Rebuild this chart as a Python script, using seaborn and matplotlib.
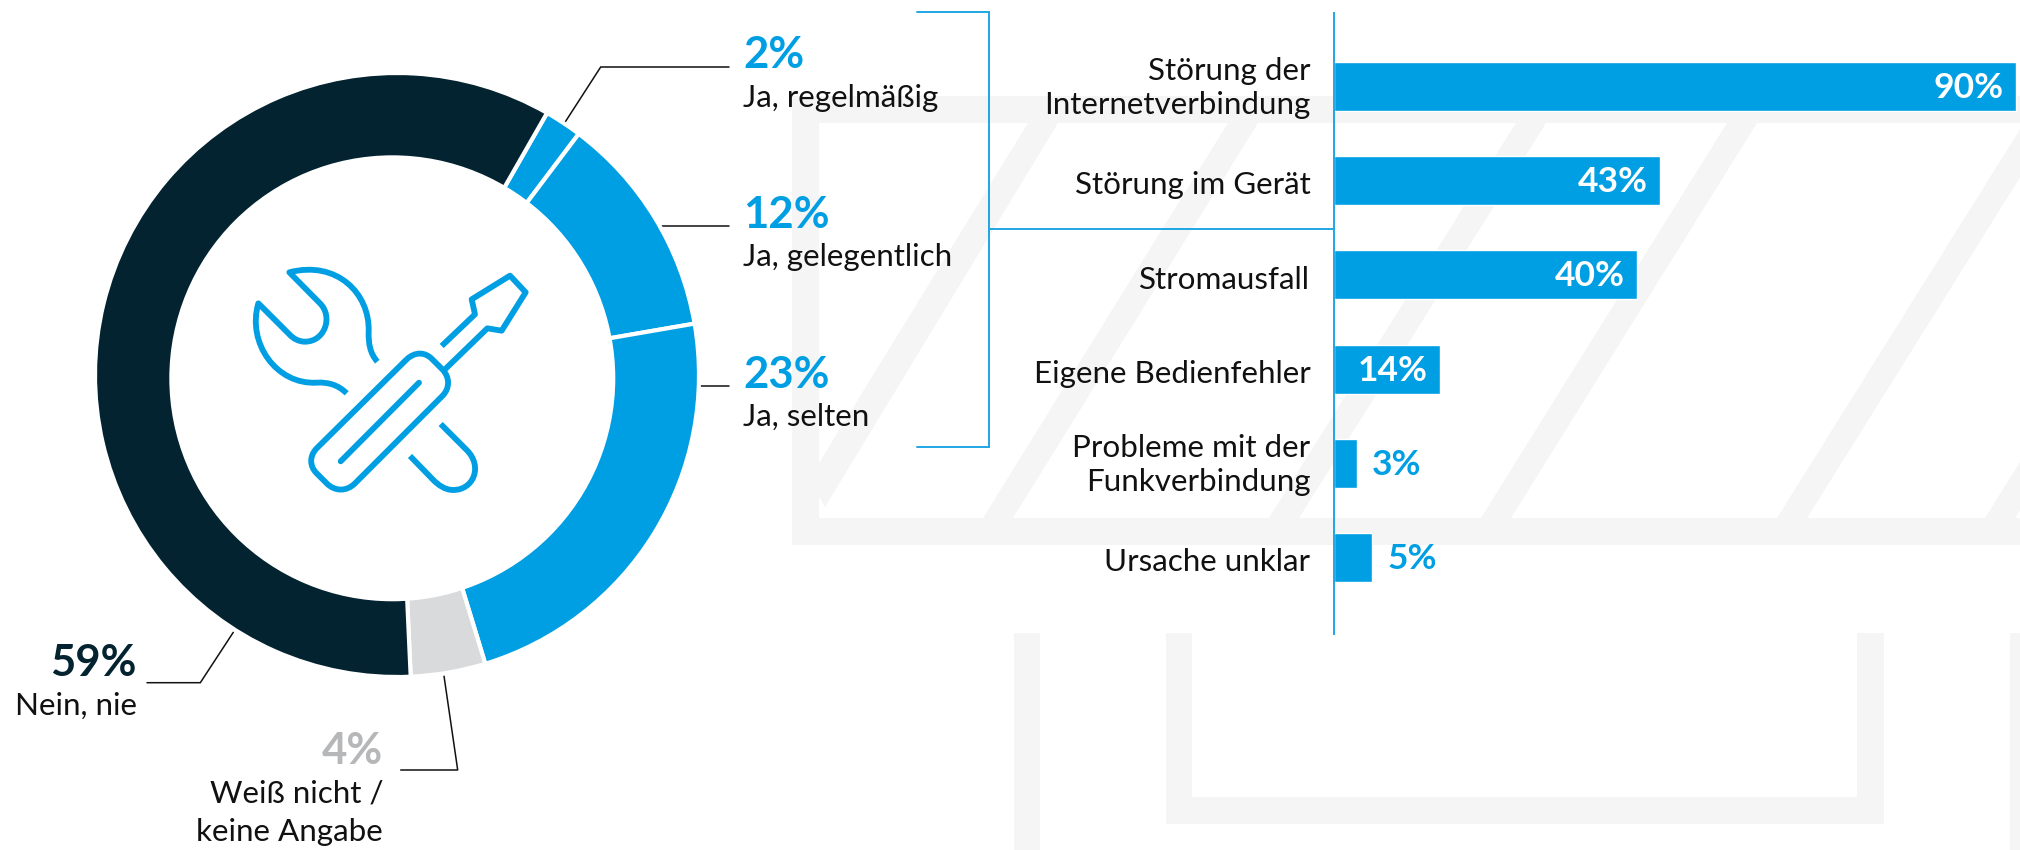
import matplotlib

matplotlib.use("Agg")
import matplotlib.pyplot as plt
import seaborn as sns
from matplotlib.patches import Circle, PathPatch, Polygon, Rectangle
from matplotlib.path import Path
from matplotlib.transforms import ScaledTranslation

BLUE = "#009FE3"
DARK = "#02232F"
GRAY = "#D9DADB"
GRAY_TEXT = "#B6B7B9"
WATERMARK = "#F5F5F5"
LINE_BLUE = "#1FA6E4"

# donut, clockwise starting at the dark slice's end
answer_labels = ["Ja, regelmäßig", "Ja, gelegentlich", "Ja, selten", "Weiß nicht /\nkeine Angabe", "Nein, nie"]
answer_values = [2, 12, 23, 4, 59]
answer_colors = [BLUE, BLUE, BLUE, GRAY, DARK]

# bars
cause_labels = [
    "Störung der\nInternetverbindung",
    "Störung im Gerät",
    "Stromausfall",
    "Eigene Bedienfehler",
    "Probleme mit der\nFunkverbindung",
    "Ursache unklar",
]
cause_values = [90, 43, 40, 14, 3, 5]

W, H = 2020, 850
sns.set_theme(style="white")
plt.rcParams["font.family"] = ["Lato", "DejaVu Sans"]


def px_axes(fig, left, top, right, bottom, **kw):
    return fig.add_axes(
        [left / W, 1 - bottom / H, (right - left) / W, (bottom - top) / H], **kw
    )


def draw_watermark(ax):
    rects = [
        (792, 96, 1228, 27),
        (792, 518, 1228, 27),
        (792, 96, 27, 449),
        (1014, 633, 26, 217),
        (1166, 633, 26, 191),
        (1857, 633, 27, 191),
        (1166, 797, 718, 27),
        (2010, 633, 10, 217),
    ]
    for x, y, w, h in rects:
        ax.add_patch(Rectangle((x, y), w, h, fc=WATERMARK, ec="none", zorder=1))
    # slanted stripes between the two bands
    for x_top, x_bottom in [(1228, 983), (1516, 1269), (1727, 1481), (2024, 1777), (2232, 1985)]:
        ax.add_patch(
            Polygon(
                [(x_top, 123), (x_top + 30, 123), (x_bottom + 30, 518), (x_bottom, 518)],
                fc=WATERMARK,
                ec="none",
                zorder=1,
            )
        )
    ax.add_patch(
        Polygon([(1028, 123), (1058, 123), (825, 507), (819, 497), (819, 463)], fc=WATERMARK, ec="none", zorder=1)
    )


def draw_icon(ax):
    def z(x, y):
        return (200 + x / 3, 220 + y / 3)

    M, L, C = Path.MOVETO, Path.LINETO, Path.CURVE4
    paths = [
        # wrench head
        [
            (M, 532, 425),
            (C, 510, 400), (C, 505, 370), (C, 506, 335),
            (C, 510, 220), (C, 410, 120), (C, 268, 157),
            (L, 360, 250),
            (C, 400, 290), (C, 375, 365), (C, 315, 365),
            (C, 295, 365), (C, 280, 355), (C, 270, 345),
            (L, 175, 250),
            (C, 140, 370), (C, 230, 495), (C, 350, 488),
            (C, 385, 486), (C, 415, 495), (C, 440, 520),
        ],
        # wrench handle behind the screwdriver
        [
            (M, 722, 612),
            (L, 800, 690),
            (C, 850, 740), (C, 820, 810), (C, 760, 810),
            (C, 735, 810), (C, 715, 795), (C, 700, 780),
            (L, 630, 708),
        ],
        # screwdriver handle
        [
            (M, 620, 418),
            (C, 645, 395), (C, 675, 395), (C, 697, 418),
            (L, 727, 448),
            (C, 750, 472), (C, 750, 505), (C, 727, 528),
            (L, 465, 790),
            (C, 440, 815), (C, 405, 815), (C, 380, 790),
            (L, 350, 760),
            (C, 328, 738), (C, 328, 708), (C, 350, 685),
            (L, 620, 418),
        ],
        [(M, 657, 488), (L, 422, 724)],
        # blade
        [
            (M, 725, 378), (L, 825, 283), (L, 815, 238), (L, 930, 167),
            (L, 977, 217), (L, 905, 332), (L, 862, 325), (L, 735, 448),
        ],
    ]
    for p in paths:
        verts = [z(x, y) for _, x, y in p]
        codes = [c for c, _, _ in p]
        cap = "round" if len(p) == 2 else "butt"
        ax.add_patch(
            PathPatch(Path(verts, codes), fc="none", ec=BLUE, lw=4.2, capstyle=cap, joinstyle="round", zorder=3)
        )


fig = plt.figure(figsize=(W / 100, H / 100), dpi=100, facecolor="white")

bg = px_axes(fig, 0, 0, W, H, zorder=0)
bg.set_xlim(0, W)
bg.set_ylim(H, 0)
bg.axis("off")
draw_watermark(bg)

# callout lines
for xs, ys in [
    ([565, 600.7, 729], [122.3, 67, 67]),
    ([661.3, 729], [225.7, 225.7]),
    ([700, 729], [385.7, 385.7]),
    ([233.3, 200.3, 147], [632.3, 682.7, 682.7]),
    ([444, 457.7, 400.7], [676, 770, 770]),
]:
    bg.plot(xs, ys, color="#111111", lw=1.1, zorder=2, solid_joinstyle="miter")

# bracket to the bar chart
bg.plot([917, 989, 989, 917], [12, 12, 446.5, 446.5], color=LINE_BLUE, lw=1.4, zorder=2, solid_joinstyle="miter")
bg.plot([989, 1334], [229, 229], color=LINE_BLUE, lw=1.4, zorder=2)

# donut, the hole sits a little off centre in the original
ring = px_axes(fig, 95, 73, 699, 677, zorder=2)
ring.pie(
    answer_values,
    colors=answer_colors,
    startangle=60.2,
    counterclock=False,
    radius=1,
    wedgeprops={"width": 0.4, "edgecolor": "white", "linewidth": 3},
)
ring.add_patch(Circle((-4.7 / 302, -3.3 / 302), 223 / 302, fc="white", ec="none", zorder=5))
ring.set_xlim(-1, 1)
ring.set_ylim(-1, 1)
ring.patch.set_alpha(0)

icon = px_axes(fig, 0, 0, W, H, zorder=2.5)
icon.set_xlim(0, W)
icon.set_ylim(H, 0)
icon.axis("off")
draw_icon(icon)

# answer texts: (x, align, value baseline, label baseline, colour)
PCT_SIZE = 31.5
LAB_SIZE = 22.6
placement = [
    (743, "left", 68.3, 107, BLUE),
    (743, "left", 228, 266, BLUE),
    (743, "left", 388, 426, BLUE),
    (383, "right", 764, 803, GRAY_TEXT),
    (137, "right", 676, 715, DARK),
]
for value, label, (x, ha, y_val, y_lab, col) in zip(answer_values, answer_labels, placement):
    icon.text(x, y_val, f"{value}%", ha=ha, va="baseline", fontsize=PCT_SIZE, fontweight="bold", color=col, zorder=4)
    icon.text(x, y_lab, label.split("\n")[0], ha=ha, va="baseline", fontsize=LAB_SIZE, color="#111111", zorder=4)
    if "\n" in label:
        icon.text(x, y_lab + 38, label.split("\n")[1], ha=ha, va="baseline", fontsize=LAB_SIZE, color="#111111", zorder=4)

# bars
ax = px_axes(fig, 1334, 13, W, 634, zorder=3)
ax.patch.set_alpha(0)
sns.barplot(x=cause_values, y=cause_labels, orient="h", color=BLUE, saturation=1, width=0.52, ax=ax)
ax.set_xlim(0, 686 / 7.58)
ax.set_ylim(5.81, -0.78)
ax.set_xticks([])
ax.set_xlabel("")
ax.set_ylabel("")
ax.tick_params(axis="y", length=0, pad=17, labelsize=LAB_SIZE, labelcolor="#111111")
for lab in ax.get_yticklabels():
    lab.set_linespacing(1.28)
    # two-line labels sit higher than mpl centres them, one-liners a touch lower
    shift = 3 if "\n" in lab.get_text() else -1.5
    lab.set_transform(lab.get_transform() + ScaledTranslation(0, shift / 72, fig.dpi_scale_trans))
sns.despine(ax=ax, top=True, right=True, bottom=True)
ax.spines["left"].set_color(LINE_BLUE)
ax.spines["left"].set_linewidth(1.4)

for i, v in enumerate(cause_values):
    inside = v >= 10
    ax.annotate(
        f"{v}%",
        (v, i),
        xytext=(-9 if inside else 11, -1),
        textcoords="offset points",
        ha="right" if inside else "left",
        va="center",
        fontsize=25.5,
        fontweight="bold",
        color="white" if inside else BLUE,
    )

fig.savefig("out.png", dpi=100)
